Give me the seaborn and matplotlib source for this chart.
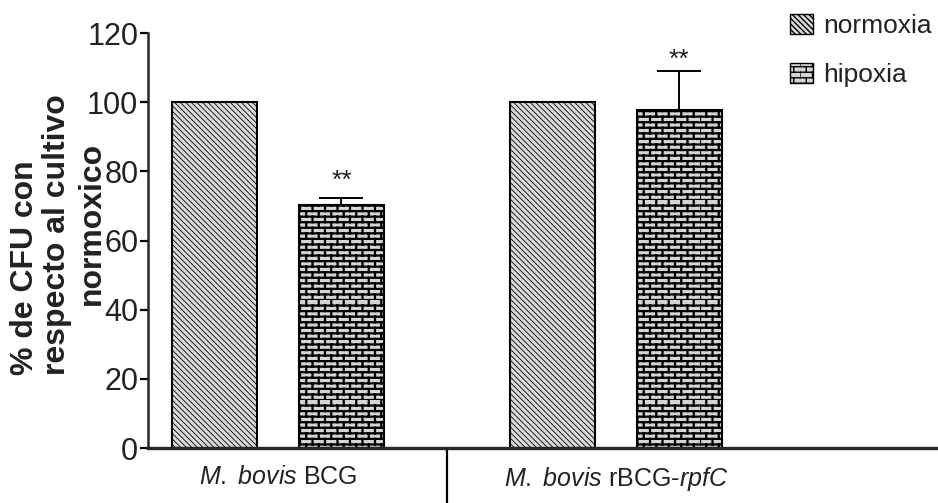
import numpy as np
import pandas as pd
import matplotlib
matplotlib.use("Agg")
import matplotlib.pyplot as plt
import matplotlib.hatch as mhatch
from matplotlib.path import Path
from matplotlib.patches import Patch
import seaborn as sns

# ---------------- data ----------------
strains = [r"$\mathit{M.}$ $\mathit{bovis}$ BCG",
           r"$\mathit{M.}$ $\mathit{bovis}$ rBCG-$\mathit{rpfC}$"]
conditions = ["normoxia", "hipoxia"]
normoxia_vals = [100.0, 100.0]
hipoxia_vals = [70.2, 97.6]
hipoxia_err = [2.1, 11.3]
stars = ["**", "**"]
yticks = [0, 20, 40, 60, 80, 100, 120]
ylabel_lines = ["% de CFU con", "respecto al cultivo", "normoxico"]


# ---------------- custom brick hatch ----------------
class BrickHatch(mhatch.HatchPatternBase):
    def __init__(self, hatch, density):
        n = int(hatch.count('B') * density)
        if n % 2:
            n += 1
        self.rows = n
        self.cols = max(1, int(round(n / 2.3)))
        if n == 0:
            self.num_vertices = 0
        else:
            self.num_vertices = self.rows * 2 + self.rows * self.cols * 2

    def set_vertices_and_codes(self, vertices, codes):
        rows, cols = self.rows, self.cols
        h = 1.0 / rows
        k = 0
        for i in range(rows):
            y = i * h
            vertices[k] = (0.0, y); codes[k] = Path.MOVETO; k += 1
            vertices[k] = (1.0, y); codes[k] = Path.LINETO; k += 1
        for i in range(rows):
            off = 0.5 if i % 2 else 0.0
            for j in range(cols):
                x = ((j + off) / cols) % 1.0
                vertices[k] = (x, i * h); codes[k] = Path.MOVETO; k += 1
                vertices[k] = (x, (i + 1) * h); codes[k] = Path.LINETO; k += 1


mhatch._hatch_types.append(BrickHatch)
mhatch._validate_hatch_pattern = lambda hatch: None

NORM_HATCH = "\\" * 6
HIP_HATCH = "B" * 3
NORM_FACE = "#dadada"
HIP_FACE = "#d4d4d4"

# ---------------- style ----------------
sns.set_theme(style="ticks")
plt.rcParams["font.family"] = ["Liberation Sans", "DejaVu Sans"]
plt.rcParams["mathtext.fontset"] = "custom"
plt.rcParams["mathtext.rm"] = "Liberation Sans"
plt.rcParams["mathtext.it"] = "Liberation Sans:italic"
plt.rcParams["mathtext.bf"] = "Liberation Sans:bold"
plt.rcParams["hatch.linewidth"] = 1.0
plt.rcParams["hatch.color"] = "black"

df = pd.DataFrame({
    "strain": strains * 2,
    "condition": [conditions[0]] * 2 + [conditions[1]] * 2,
    "value": normoxia_vals + hipoxia_vals,
})

fig = plt.figure(figsize=(9.38, 5.03), dpi=100)
ax = fig.add_axes([148 / 938, 55 / 503, 1 - 148 / 938, 415 / 503])

sns.barplot(data=df, x="strain", y="value", hue="condition",
            hue_order=conditions, order=strains,
            width=0.75, gap=0.325, errorbar=None, legend=False, ax=ax,
            edgecolor="black", linewidth=1.5)

for bar in ax.containers[0]:
    bar.set_facecolor(NORM_FACE)
    bar.set_hatch(NORM_HATCH)
    bar.set_edgecolor("black")
    if hasattr(bar, "set_hatch_linewidth"):
        bar.set_hatch_linewidth(0.6)
for bar in ax.containers[1]:
    bar.set_facecolor(HIP_FACE)
    bar.set_hatch(HIP_HATCH)
    bar.set_edgecolor("black")
    if hasattr(bar, "set_hatch_linewidth"):
        bar.set_hatch_linewidth(1.6)

# error bars (upper only) on hipoxia bars
hx = [b.get_x() + b.get_width() / 2 for b in ax.containers[1]]
ax.errorbar(hx, hipoxia_vals, yerr=[np.zeros(len(hipoxia_err)), hipoxia_err],
            fmt="none", ecolor="black", elinewidth=1.4, capsize=15.5,
            capthick=1.4, zorder=5)

star_offsets = [7.5, 3.0]
for x, v, e, s, o in zip(hx, hipoxia_vals, hipoxia_err, stars, star_offsets):
    ax.annotate(s, xy=(x, v + e), xytext=(0, o), textcoords="offset points",
                ha="center", va="baseline", fontsize=19, color="#222222")

# axes
ax.set_ylim(0, 120)
ax.set_yticks(yticks)
ax.set_yticklabels([str(t) for t in yticks])
ax.set_xlim(-0.385, 1.953)
sns.despine(ax=ax, top=True, right=True)
ax.spines["left"].set_linewidth(1.8)
ax.spines["bottom"].set_linewidth(2.4)
ax.tick_params(axis="y", length=6, width=1.6, labelsize=22, pad=1,
               color="black", labelcolor="#222222")
ax.tick_params(axis="x", which="major", length=0, labelsize=18, pad=12,
               labelcolor="#222222")
ax.set_xticks([0.5], minor=True)
ax.tick_params(axis="x", which="minor", length=40, width=1.6, direction="out",
               color="black")
ax.set_xlabel("")
ax.grid(False)

# y label: first two lines bottom-aligned, third line centred beside them
ax.set_ylabel("\n".join(ylabel_lines[:2]), fontsize=23, fontweight="bold",
              linespacing=1.08, color="#222222", multialignment="left")
ax.yaxis.set_label_coords(-0.096, 0.513)
ax.text(-0.0705, 0.54, ylabel_lines[2], transform=ax.transAxes, rotation=90,
        ha="center", va="center", fontsize=23, fontweight="bold",
        color="#222222")

# legend
handles = [
    Patch(facecolor=NORM_FACE, edgecolor="black", hatch=NORM_HATCH, linewidth=1.0),
    Patch(facecolor=HIP_FACE, edgecolor="black", hatch=HIP_HATCH, linewidth=1.0),
]
fig.legend(handles, conditions, loc="upper left",
           bbox_to_anchor=(777 / 938, 1 - 1 / 503), frameon=False,
           fontsize=19, handlelength=0.85, handleheight=0.75,
           handletextpad=0.4, labelspacing=0.95, borderpad=0,
           labelcolor="#222222")

fig.savefig("out.png", dpi=100)
